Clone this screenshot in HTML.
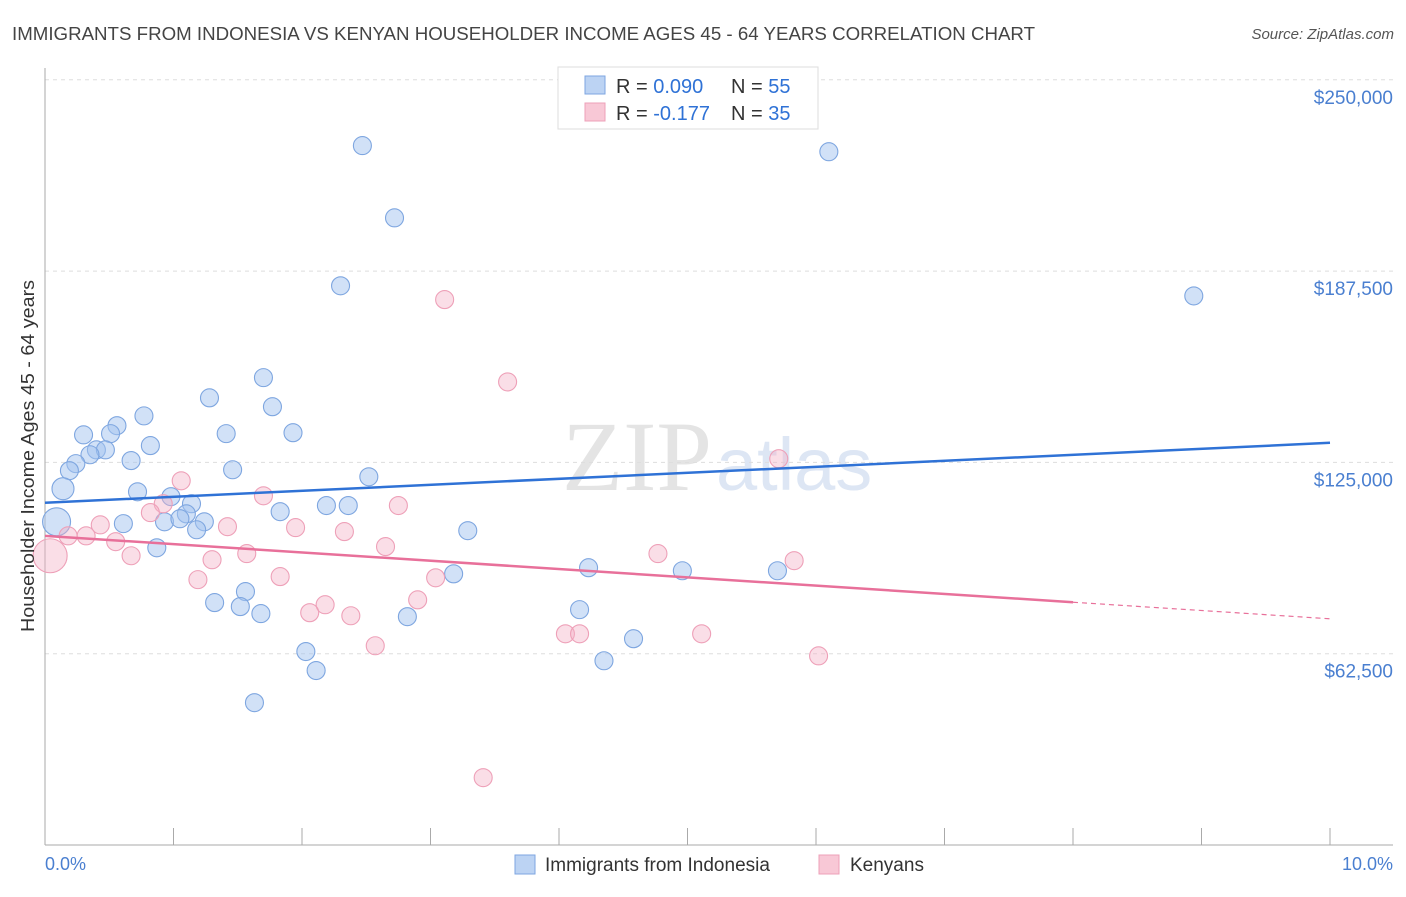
<!DOCTYPE html>
<html><head><meta charset="utf-8"><style>
body{margin:0;background:#fff;font-family:"Liberation Sans",sans-serif;}
</style></head><body>
<svg width="1406" height="892" xmlns="http://www.w3.org/2000/svg">
<text x="12" y="40" font-size="18" fill="#444" textLength="1023" lengthAdjust="spacingAndGlyphs">IMMIGRANTS FROM INDONESIA VS KENYAN HOUSEHOLDER INCOME AGES 45 - 64 YEARS CORRELATION CHART</text>
<text x="1394" y="39" font-size="15" fill="#555" font-style="italic" text-anchor="end">Source: ZipAtlas.com</text>
<text x="712" y="490" font-size="100" fill="#e4e4e4" font-family="Liberation Serif" text-anchor="end">ZIP</text>
<text x="716" y="490" font-size="74" fill="#dde6f4">atlas</text>
<g id="grid"></g>
<g id="axes"></g>
<g id="pts"></g>
<g id="lines"></g>
<text transform="translate(34,456) rotate(-90)" font-size="18" fill="#333" text-anchor="middle" textLength="352" lengthAdjust="spacingAndGlyphs">Householder Income Ages 45 - 64 years</text>
<text x="45" y="870" font-size="18" fill="#4a7fd0">0.0%</text>
<text x="1393" y="870" font-size="18" fill="#4a7fd0" text-anchor="end">10.0%</text>
<g>
<rect x="558" y="67" width="260" height="62" fill="#fff" stroke="#ddd"/>
<rect x="585" y="76" width="20" height="18" fill="#bcd3f3" stroke="#7ea6e0"/>
<rect x="585" y="103" width="20" height="18" fill="#f8c8d6" stroke="#eea0b8"/>
<text x="616" y="93" font-size="20" fill="#333">R = <tspan fill="#2f72d6">0.090</tspan></text>
<text x="731" y="93" font-size="20" fill="#333">N = <tspan fill="#2f72d6">55</tspan></text>
<text x="616" y="120" font-size="20" fill="#333">R = <tspan fill="#2f72d6">-0.177</tspan></text>
<text x="731" y="120" font-size="20" fill="#333">N = <tspan fill="#2f72d6">35</tspan></text>
</g>
<g>
<rect x="515" y="855" width="20" height="19" fill="#bcd3f3" stroke="#7ea6e0"/>
<text x="545" y="871" font-size="19" fill="#333">Immigrants from Indonesia</text>
<rect x="819" y="855" width="20" height="19" fill="#f8c8d6" stroke="#eea0b8"/>
<text x="850" y="871" font-size="19" fill="#333">Kenyans</text>
</g>
</svg>
<script>
const yTicks=[62500,125000,187500,250000];
const yTickLabels=["$62,500","$125,000","$187,500","$250,000"];
const xTicks=[0,1,2,3,4,5,6,7,8,9,10];
const blueX=[2.47,6.10,2.72,2.30,8.94,1.70,1.28,1.77,0.77,0.56,0.30,0.51,1.41,1.93,0.82,0.40,0.47,0.35,0.24,0.67,0.19,1.46,2.52,0.14,0.72,0.98,1.14,2.19,2.36,1.10,0.93,1.24,0.61,1.05,1.83,0.09,1.18,3.29,0.87,3.18,4.23,4.96,5.70,1.56,1.32,1.52,4.16,1.68,2.82,4.58,2.03,4.35,2.11,1.63];
const blueY=[228.5,226.5,204.9,182.7,179.4,152.7,146.1,143.2,140.2,137.0,134.0,134.4,134.4,134.7,130.5,129.1,129.1,127.5,124.6,125.6,122.3,122.6,120.3,116.4,115.4,113.8,111.5,110.9,110.9,108.2,105.6,105.6,105.0,106.6,108.9,105.6,103.0,102.7,97.1,88.6,90.6,89.6,89.6,82.8,79.2,77.9,76.9,75.6,74.6,67.4,63.2,60.2,57.0,46.5];
const blueR=[9,9,9,9,9,9,9,9,9,9,9,9,9,9,9,9,9,9,9,9,9,9,9,11,9,9,9,9,9,9,9,9,9,9,9,14,9,9,9,9,9,9,9,9,9,9,9,9,9,9,9,9,9,9];
const pinkX=[3.11,3.60,5.71,1.06,1.70,2.75,0.92,0.82,0.43,1.42,1.95,2.33,0.18,0.32,0.55,2.65,1.57,0.67,1.30,4.77,5.83,1.83,3.04,1.19,2.90,2.18,2.06,2.38,4.05,4.16,5.11,2.57,6.02,3.41,0.04];
const pinkY=[178.2,151.3,126.2,119.0,114.1,110.9,111.5,108.6,104.6,104.0,103.7,102.4,101.0,101.0,99.1,97.5,95.2,94.5,93.2,95.2,92.9,87.7,87.3,86.7,80.1,78.5,75.9,74.9,69.0,69.0,69.0,65.1,61.8,22.0,94.5];
const pinkR=[9,9,9,9,9,9,9,9,9,9,9,9,9,9,9,9,9,9,9,9,9,9,9,9,9,9,9,9,9,9,9,9,9,9,17];
const blueTrend=[111.8,131.4];
const pinkTrend=[101.0,73.9];
const pinkSolidEnd=8;
const NS="http://www.w3.org/2000/svg";
const X=v=>45+v*128.5;
const Y=k=>845-k*1000/62500*191.3;
function mk(t,a,p){const e=document.createElementNS(NS,t);for(const k in a)e.setAttribute(k,a[k]);p.appendChild(e);return e;}
const grid=document.getElementById('grid'),axes=document.getElementById('axes'),pts=document.getElementById('pts'),lines=document.getElementById('lines');
yTicks.forEach((t,i)=>{
 const y=Y(t/1000);
 const g=mk('line',{x1:45,x2:1393,y1:y,y2:y,stroke:'#ddd','stroke-dasharray':'4,4'},grid);
 
 
 const tx=mk('text',{x:1393,y:y+24,'font-size':19,fill:'#4a7fd0','text-anchor':'end'},axes);
 tx.textContent=yTickLabels[i];
 
 
});
const ya=mk('line',{x1:45,x2:45,y1:68,y2:845,stroke:'#aaa'},axes);


const xa=mk('line',{x1:45,x2:1393,y1:845,y2:845,stroke:'#aaa'},axes);


xTicks.forEach(t=>{
 const l=mk('line',{x1:X(t),x2:X(t),y1:828,y2:845,stroke:'#aaa'},axes);
 
 
});
function draw(xs,ys,rs,fill,stroke,name){
 xs.forEach((x,i)=>{
  const c=mk('circle',{cx:X(x),cy:Y(ys[i]),r:rs[i],fill:fill,stroke:stroke,'stroke-width':1.1},pts);
  
  
 });
}
draw(blueX,blueY,blueR,'rgba(164,196,240,0.5)','#7ea6e0','point-indonesia');
draw(pinkX,pinkY,pinkR,'rgba(244,176,198,0.42)','#eea0b8','point-kenyans');
const bl=mk('line',{x1:X(0),y1:Y(blueTrend[0]),x2:X(10),y2:Y(blueTrend[1]),stroke:'#2f72d6','stroke-width':2.5},lines);


const pv=x=>pinkTrend[0]+(pinkTrend[1]-pinkTrend[0])*x/10;
const pl=mk('line',{x1:X(0),y1:Y(pv(0)),x2:X(pinkSolidEnd),y2:Y(pv(pinkSolidEnd)),stroke:'#e8709a','stroke-width':2.5},lines);


const pd=mk('line',{x1:X(pinkSolidEnd),y1:Y(pv(pinkSolidEnd)),x2:X(10),y2:Y(pv(10)),stroke:'#e8709a','stroke-width':1.2,'stroke-dasharray':'5,4'},lines);


</script>
</body></html>
